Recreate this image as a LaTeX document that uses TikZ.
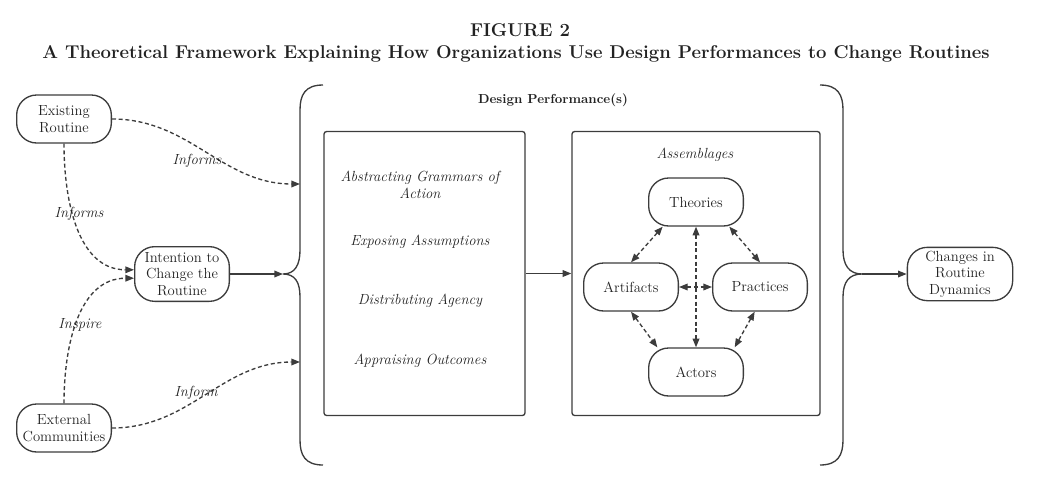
\documentclass[tikz,border=0pt]{standalone}
\usepackage{tikz}
\usetikzlibrary{arrows.meta, positioning, calc}

\definecolor{linegray}{HTML}{3C3C3C}
\definecolor{textgray}{HTML}{222222}

\tikzset{
  pill/.style={draw=linegray, line width=1pt, rounded corners=15pt, align=center,
    minimum width=71pt, minimum height=36pt, inner sep=1pt,
    font=\fontsize{11}{12.5}\selectfont, text=textgray},
  panel/.style={draw=linegray, line width=1pt, rounded corners=2pt,
    minimum width=#1, minimum height=213pt},
  link/.style={draw=linegray, line width=1pt, -{Triangle[length=6.5pt,width=5pt]}},
  dashlink/.style={link, dash pattern=on 3pt off 2pt},
  twoway/.style={dashlink, {Triangle[length=6.5pt,width=5pt]}-{Triangle[length=6.5pt,width=5pt]}},
  lbl/.style={font=\fontsize{11}{13}\selectfont\itshape, text=textgray},
  heading/.style={font=\fontsize{13.9}{16}\selectfont\bfseries, text=textgray},
}

\begin{document}
\begin{tikzpicture}[x=0.75pt, y=-0.75pt]
\useasboundingbox (0,0) rectangle (1041,500);

% Title
\node[heading] (fig) at (520,30) {FIGURE 2};
\node[heading] (title) at (516,54) {A Theoretical Framework Explaining How Organizations Use Design Performances to Change Routines};

% Inputs and outcome
\node[pill] (exist) at (64,119) {Existing\\Routine};
\node[pill, minimum height=41pt] (intent) at (182,274) {Intention to\\Change the\\Routine};
\node[pill] (extern) at (64,428) {External\\Communities};
\node[pill, minimum width=79pt, minimum height=40pt] (change) at (960,274) {Changes in\\Routine\\Dynamics};

% Braces round the design performance
\draw[linegray, line width=1pt] (323,85) .. controls (305,85) and (300,95) .. (300,110) -- (300,250)
  .. controls (300,265) and (295,274) .. (283,274)
  .. controls (295,274) and (300,282) .. (300,297) -- (300,440)
  .. controls (300,455) and (305,465) .. (323,465);
\draw[linegray, line width=1pt] (820,85) .. controls (838,85) and (843,95) .. (843,110) -- (843,250)
  .. controls (843,265) and (849,274) .. (862,274)
  .. controls (849,274) and (843,282) .. (843,297) -- (843,440)
  .. controls (843,455) and (838,465) .. (820,465);
\coordinate (ltip) at (283,274);
\coordinate (rtip) at (862,274);
\coordinate (lin1) at (300,184);
\coordinate (lin2) at (300,362);

\node[font=\fontsize{9.8}{12}\selectfont\bfseries, text=textgray] (dp) at (553,100) {Design Performance(s)};

% Practices panel
\node[panel=150.75pt] (perf) at (424.5,273.5) {};
\node[lbl, align=center] (abs) at (420,185) {Abstracting Grammars of\\Action};
\node[lbl] (expo) at (420,242) {Exposing Assumptions};
\node[lbl] (dist) at (420,301) {Distributing Agency};
\node[lbl] (appr) at (420,361) {Appraising Outcomes};

% Assemblages panel
\node[panel=186pt] (assem) at (696,273.5) {};
\node[lbl] (asmlbl) at (695,155) {Assemblages};
\node[pill] (theo) at (696,202) {Theories};
\node[pill] (arti) at (631,287) {Artifacts};
\node[pill] (prac) at (760,287) {Practices};
\node[pill] (acto) at (696,372) {Actors};

\draw[twoway] ([xshift=-25pt]theo.south) -- (arti.north);
\draw[twoway] ([xshift=25pt]theo.south) -- (prac.north);
\draw[twoway] (theo.south) -- (acto.north);
\draw[twoway] (arti.east) -- (prac.west);
\draw[twoway] (arti.south) -- ([xshift=-29pt]acto.north);
\draw[twoway] ([xshift=-4pt]prac.south) -- ([xshift=29pt]acto.north);

% Influences
\draw[dashlink] (exist.east) to[out=0, in=180] (lin1);
\draw[dashlink] (exist.south) to[out=-90, in=180] (intent.175);
\draw[dashlink] (extern.north) to[out=90, in=180] (intent.185);
\draw[dashlink] (extern.east) to[out=0, in=180] (lin2);

\node[lbl] (inf1) at (197,161) {Informs};
\node[lbl] (inf2) at (79,214) {Informs};
\node[lbl] (insp) at (80,325) {Inspire};
\node[lbl] (inf3) at (196,393) {Inform};

% Flow
\draw[link] (intent.east) -- (ltip);
\draw[link] (perf.east) -- (assem.west);
\draw[link] (rtip) -- (change.west);
\end{tikzpicture}
\end{document}
